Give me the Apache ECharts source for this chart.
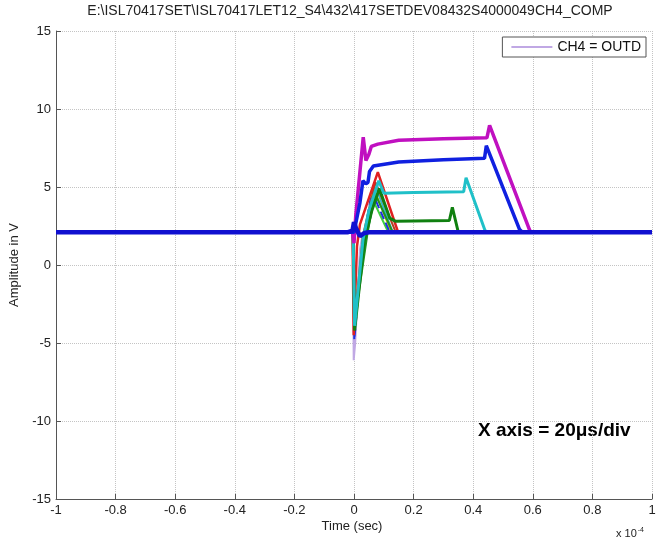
<!DOCTYPE html>
<html><head><meta charset="utf-8">
<script src="https://cdn.jsdelivr.net/npm/echarts@6/dist/echarts.min.js"></script>
<style>html,body{margin:0;padding:0;background:#fff}#c{width:663px;height:541px}</style>
</head><body><div id="c"></div>
<script>
// Time in units of 1e-4 s, amplitude in V
const titleText = 'E:\\ISL70417SET\\ISL70417LET12_S4\\432\\417SETDEV08432S4000049CH4_COMP';
const legendName = 'CH4 = OUTD';
const baselineBlue = [[-1,2.1],[-0.02,2.1],[-0.005,2.2],[0.0,2.75],[0.008,2.3],[0.02,1.85],[0.035,2.05],[0.05,2.1],[1,2.1]];
const magentaTrace = [[-1,2.1],[-0.005,2.1],[0.0,1.4],[0.006,3.2],[0.031,8.2],[0.04,6.7],[0.05,7.1],[0.058,7.6],[0.08,7.75],[0.15,8.0],[0.3,8.1],[0.446,8.15],[0.455,8.95],[0.59,2.2],[0.6,2.1],[1,2.1]];
const bluePulse = [[-1,2.1],[0,2.1],[0.02,4.0],[0.03,5.4],[0.04,5.2],[0.047,5.3],[0.052,6.0],[0.065,6.35],[0.15,6.6],[0.3,6.75],[0.438,6.85],[0.444,7.65],[0.555,2.3],[0.565,2.1],[1,2.1]];
const cyanPulse = [[-1,2.1],[-0.003,2.1],[0.002,-3.9],[0.03,1.6],[0.05,3.5],[0.083,5.4],[0.1,4.6],[0.2,4.65],[0.368,4.7],[0.376,5.6],[0.44,2.2],[0.45,2.1],[1,2.1]];
const greenPulse = [[-1,2.1],[-0.003,2.1],[0.002,-4.2],[0.035,1.6],[0.06,3.5],[0.085,4.9],[0.12,3.0],[0.14,2.8],[0.32,2.85],[0.33,3.7],[0.35,2.1],[1,2.1]];
const redTriangle = [[-1,2.1],[-0.005,2.1],[-0.001,-4.5],[0.01,1.2],[0.02,2.6],[0.08,5.95],[0.148,2.1],[1,2.1]];
const brownTriangle = [[-1,2.1],[-0.003,2.1],[0.001,-3.8],[0.03,1.9],[0.072,5.3],[0.14,2.1],[1,2.1]];
const yellowTriangle = [[-1,2.1],[-0.003,2.1],[0.001,-3.4],[0.035,1.8],[0.065,5.0],[0.125,2.1],[1,2.1]];
const lightGreenTriangle = [[-1,2.1],[-0.003,2.1],[0.001,-3.0],[0.04,1.7],[0.058,4.4],[0.115,2.1],[1,2.1]];
const darkGreenTriangle = [[-1,2.1],[-0.003,2.1],[0.002,-3.6],[0.045,2.0],[0.07,4.6],[0.13,2.1],[1,2.1]];
const blueTriangle = [[-1,2.1],[-0.003,2.1],[0.001,-4.8],[0.03,1.5],[0.06,4.7],[0.12,2.1],[1,2.1]];
const cyanTriangle = [[-1,2.1],[-0.003,2.1],[0.002,-3.2],[0.045,2.2],[0.075,4.9],[0.13,2.1],[1,2.1]];
const lavenderTrace = [[-1,2.1],[-0.004,2.1],[-0.001,-6.1],[0.004,-5.0],[0.02,1.0],[0.03,2.1],[1,2.1]];

const FONT = 'Liberation Sans, Arial, sans-serif';
function ln(name, data, color, width, type, z) {
  return {type:'line', name:name, data:data, showSymbol:false, symbol:'none', animation:false,
    lineStyle:{color:color, width:width, type:type||'solid'}, itemStyle:{color:color}, z:z||2};
}
const axisCommon = {
  axisLine:{show:true, onZero:false, lineStyle:{color:'#555', width:1}},
  axisTick:{show:true, inside:true, length:5, lineStyle:{color:'#555'}},
  axisLabel:{color:'#222', fontFamily:FONT, fontSize:13, margin:5},
  splitLine:{show:true, lineStyle:{color:'#c4c4c4', type:'dotted', width:1}}
};
const chart = echarts.init(document.getElementById('c'));
chart.setOption({
  animation:false,
  backgroundColor:'#fff',
  grid:{left:56, right:11, top:31, bottom:42},
  xAxis:Object.assign({type:'value', min:-1, max:1, interval:0.2}, axisCommon),
  yAxis:Object.assign({type:'value', min:-15, max:15, interval:5,
    name:'Amplitude in V', nameLocation:'middle', nameGap:33,
    nameTextStyle:{color:'#222', fontFamily:FONT, fontSize:13}}, axisCommon),
  legend:{data:[legendName], right:17, top:37, orient:'vertical',
    backgroundColor:'#fff', borderColor:'#555', borderWidth:1, padding:[3,5,3,9],
    icon:'rect', itemWidth:41, itemHeight:2, itemGap:4,
    textStyle:{color:'#111', fontFamily:FONT, fontSize:14, padding:[0,0,0,0]}},
  series:[
    ln(legendName, lavenderTrace, '#c0a8e4', 2),
    ln('yellow', yellowTriangle, '#d2d200', 2),
    ln('lightgreen', lightGreenTriangle, '#40d040', 2),
    ln('cyan2', cyanTriangle, '#30b8c8', 2),
    ln('darkgreen', darkGreenTriangle, '#209020', 2),
    ln('bluetri', blueTriangle, '#2030e0', 2, 'dashed'),
    ln('brown', brownTriangle, '#b04020', 2),
    ln('red', redTriangle, '#e02020', 2.5),
    ln('green', greenPulse, '#108010', 3),
    ln('cyan', cyanPulse, '#20c0c8', 3),
    ln('magenta', magentaTrace, '#c010c0', 3.5),
    ln('blue', bluePulse, '#1020e0', 3.5),
    ln('baseline', baselineBlue, '#1010d0', 4.5, 'solid', 5)
  ],
  graphic:[
    {type:'text', x:350, y:4, style:{text:titleText, font:'14px '+FONT, fill:'#222', textAlign:'center'}},
    {type:'text', x:352, y:520, style:{text:'Time (sec)', font:'13px '+FONT, fill:'#222', textAlign:'center'}},
    {type:'text', left:616, top:527, style:{text:'{a|x 10}{b|-4}', rich:{a:{font:'11px '+FONT, fill:'#222'}, b:{font:'7px '+FONT, fill:'#222', verticalAlign:'top', padding:[0,0,6,1]}}}},
    {type:'text', left:478, top:421, style:{text:'X axis = 20μs/div', font:'bold 19px '+FONT, fill:'#000'}}
  ]
});
</script></body></html>
